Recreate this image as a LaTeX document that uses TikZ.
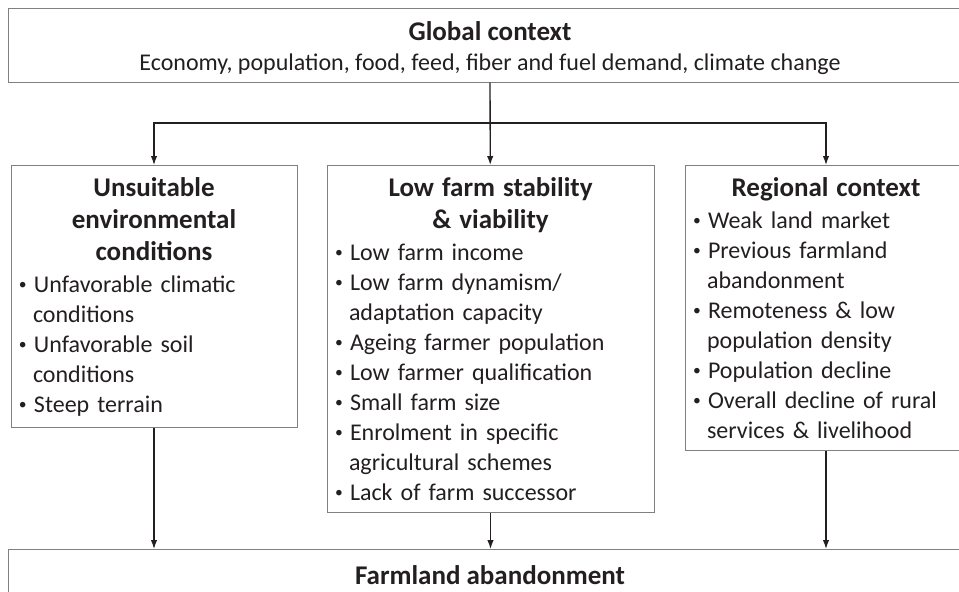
\documentclass[tikz,border=0pt]{standalone}
\usepackage{fontspec}
\setmainfont{Carlito}
\usetikzlibrary{positioning,arrows.meta}
\definecolor{ink}{HTML}{231F20}
\tikzset{
  every picture/.style={font=\fontsize{24}{30}\selectfont, color=ink},
  frame/.style={draw=black!50, line width=1pt},
  listbox/.style={frame, anchor=north, align=left, inner xsep=8pt, inner ysep=5pt},
  arr/.style={-{Latex[length=9pt,width=6.5pt]}, line width=1.3pt, draw=ink}
}
\newcommand{\hdfont}{\fontsize{27}{32}\selectfont\bfseries}
\newcommand{\hd}[1]{\makebox[\hsize][c]{\hdfont #1}}
\newcommand{\bul}{\makebox[15pt][l]{\raisebox{3pt}{\scalebox{0.65}{•}}}}
\newcommand{\ind}{\hspace*{14pt}}

\begin{document}
\begin{tikzpicture}[x=1pt,y=-1pt]
  \useasboundingbox (0,0) rectangle (959,592);

  \node [frame, minimum width=964pt, minimum height=74pt, align=center, inner ysep=6pt] (glob) at (490,45)
    {{\hdfont\rule{0pt}{26pt}Global context}\\[0pt] Economy, population, food, feed, fiber and fuel demand, climate change};

  \node [listbox, text width=270pt, minimum height=262pt] (env) at (154,165)
    {\hd{Unsuitable}\\[2pt] \hd{environmental}\\[2pt] \hd{conditions}\\[2pt]
     \bul Unfavorable climatic\\ \ind conditions\\
     \bul Unfavorable soil\\ \ind conditions\\
     \bul Steep terrain};

  \node [listbox, text width=311pt, minimum height=347pt] (farm) at (490.5,165)
    {\hd{Low farm stability}\\[2pt] \hd{\& viability}\\[2pt]
     \bul Low farm income\\
     \bul Low farm dynamism/\\ \ind adaptation capacity\\
     \bul Ageing farmer population\\
     \bul Low farmer qualification\\
     \bul Small farm size\\
     \bul Enrolment in specific\\ \ind agricultural schemes\\
     \bul Lack of farm successor};

  \node [listbox, text width=266pt, minimum height=285pt] (reg) at (826,165)
    {\hd{Regional context}\\[2pt]
     \bul Weak land market\\
     \bul Previous farmland\\ \ind abandonment\\
     \bul Remoteness \& low\\ \ind population density\\
     \bul Population decline\\
     \bul Overall decline of rural\\ \ind services \& livelihood};

  \node [frame, anchor=north, minimum width=964pt, minimum height=52pt, font=\hdfont] (aband) at (490,549) {Farmland abandonment};

  % global context to the three groups
  \coordinate (split) at (490,123);
  \draw [arr] (glob) -- (farm);
  \draw [arr] (split) -| (env.north);
  \draw [arr] (split) -| (reg.north);

  % groups to abandonment
  \foreach \n in {env,farm,reg}
    \draw [arr] (\n.south) -- (\n.south |- aband.north);
\end{tikzpicture}
\end{document}
